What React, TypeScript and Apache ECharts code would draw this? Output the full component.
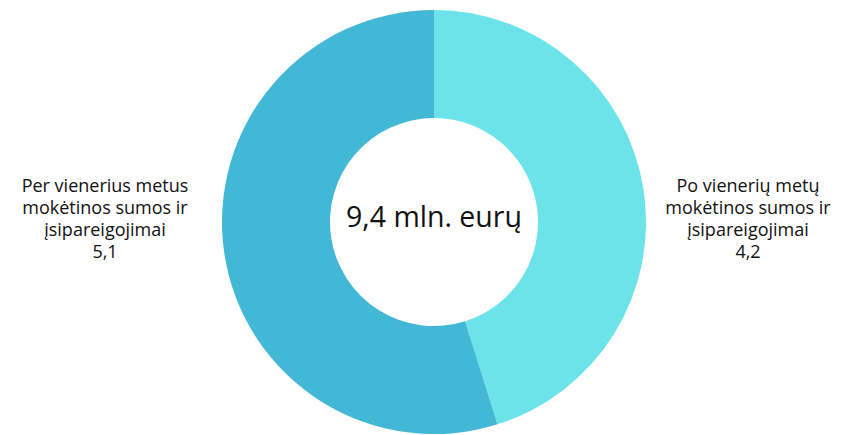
import React, { useEffect, useRef } from "react";
import * as echarts from "echarts";

const categories = [
  "Po vienerių metų\nmokėtinos sumos ir\nįsipareigojimai",
  "Per vienerius metus\nmokėtinos sumos ir\nįsipareigojimai",
];
const values = [4.2, 5.1];
const totalLabel = "9,4 mln. eurų";
const colors = ["#6BE3E8", "#42B8D6"];

export default function App() {
  const ref = useRef<HTMLDivElement>(null);
  useEffect(() => {
    document.body.style.margin = "0";
    const chart = echarts.init(ref.current!, null, { renderer: "svg" });
    chart.setOption({
      animation: false,
      color: colors,
      graphic: [
        {
          type: "text",
          x: 434,
          y: 216,
          style: {
            text: totalLabel,
            fontFamily: "Open Sans",
            fontSize: 28.5,
            fill: "#111",
            align: "center",
            verticalAlign: "middle",
          },
        },
      ],
      series: [
        {
          type: "pie",
          center: [434, 222],
          radius: [104, 212],
          startAngle: 90,
          clockwise: true,
          data: categories.map((c, i) => ({ name: c, value: values[i] })),
          labelLine: { show: false },
          label: {
            show: true,
            position: "outside",
            fontFamily: "Open Sans",
            fontSize: 18,
            lineHeight: 22,
            color: "#111",
            overflow: "none",
            width: 260,
            formatter: (p: any) => `${p.name}\n${String(p.value).replace(".", ",")}`,
          },
          labelLayout: (p: any) => ({
            x: p.dataIndex === 0 ? 748 : 105,
            y: 218,
            align: "center",
            verticalAlign: "middle",
          }),
        },
      ],
    });
    return () => chart.dispose();
  }, []);
  return <div ref={ref} style={{ position: "absolute", left: 0, top: 0, width: 848, height: 435 }} />;
}
